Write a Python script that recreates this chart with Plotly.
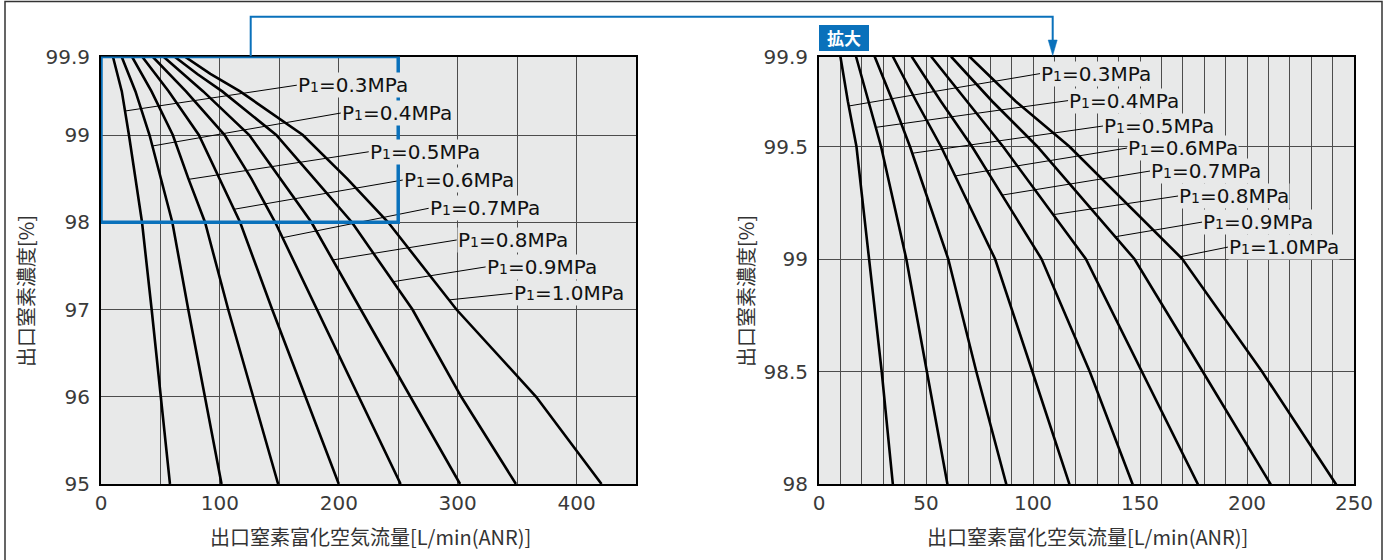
import numpy as np
import plotly.graph_objects as go

W, H = 1387, 560
BLUE = "#0a71bb"
PLOT_BG = "#e8e9e9"
GRID = "#4d4d4d"

# Supply pressure labels
pressures = ["0.3", "0.4", "0.5", "0.6", "0.7", "0.8", "0.9", "1.0"]

# Outlet nitrogen purity [%] at which each curve's flow is given
purity = [99.9, 99.7, 99.5, 99.0, 98.5, 98.0, 97.0, 96.0, 95.0]

# Outlet nitrogen-enriched air flow [L/min(ANR)] for each supply pressure
flow_03 = [10.0, 13.5, 17.5, 23.5, 29.3, 34.5, 42.6, 50.5, 58.0]
flow_04 = [17.3, 23.0, 29.0, 40.8, 50.5, 60.0, 73.4, 87.4, 101.4]
flow_05 = [26.0, 34.5, 42.5, 60.4, 73.5, 87.5, 107.0, 128.0, 149.0]
flow_06 = [34.5, 45.5, 57.0, 82.3, 99.7, 117.0, 144.0, 172.0, 200.0]
flow_07 = [43.3, 57.0, 71.5, 104.0, 126.5, 146.5, 181.5, 217.0, 252.0]
flow_08 = [52.4, 69.0, 86.0, 124.7, 151.0, 177.0, 218.5, 260.0, 302.0]
flow_09 = [61.7, 81.0, 102.0, 147.4, 179.3, 211.0, 262.0, 303.0, 349.0]
flow_10 = [70.3, 92.0, 117.0, 169.8, 207.0, 241.5, 299.0, 366.0, 421.0]
flows = [flow_03, flow_04, flow_05, flow_06, flow_07, flow_08, flow_09, flow_10]

# Left chart (full range): label anchor (flow, purity) and purity where the leader meets the curve
left_label_x = [164.7, 201.7, 225.2, 253.8, 275.6, 299.2, 323.5, 346.2]
left_label_y = [99.571, 99.252, 98.808, 98.484, 98.16, 97.797, 97.488, 97.186]
left_leader_purity = [99.275, 98.874, 98.492, 98.149, 97.823, 97.568, 97.319, 97.11]

# Right chart (enlarged): label anchor and leader purity
right_label_x = [103.3, 116.4, 132.7, 143.9, 154.7, 167.8, 179.0, 191.1]
right_label_y = [99.824, 99.704, 99.591, 99.493, 99.391, 99.28, 99.164, 99.053]
right_leader_purity = [99.68, 99.585, 99.47, 99.369, 99.284, 99.197, 99.099, 99.01]

x_title = "出口窒素富化空気流量[L/min(ANR)]"
y_title = "出口窒素濃度[%]"


def px(x):
    return x / W


def py(y):
    return 1 - y / H


TICK_FONT = dict(family="DejaVu Sans", size=20, color="#3a3a3a")
LABEL_FONT = dict(family="DejaVu Sans", size=20, color="#111111")
CJK_FONT = dict(family="Noto Sans CJK JP", size=20, color="#333333")

fig = go.Figure()

for fl in flows:
    fig.add_trace(go.Scatter(x=fl, y=purity, xaxis="x", yaxis="y", mode="lines",
                             line=dict(color="black", width=2.6), showlegend=False,
                             hoverinfo="skip"))
    fig.add_trace(go.Scatter(x=fl, y=purity, xaxis="x2", yaxis="y2", mode="lines",
                             line=dict(color="black", width=2.6), showlegend=False,
                             hoverinfo="skip"))

shapes = []
annotations = []

pur_asc = np.array(purity[::-1])
for i, fl in enumerate(flows):
    fl_asc = np.array(fl[::-1])
    label = f"P<span style='font-size:14px'>1</span>={pressures[i]}MPa"
    # left chart
    lx = float(np.interp(left_leader_purity[i], pur_asc, fl_asc))
    shapes.append(dict(type="line", xref="x", yref="y",
                       x0=left_label_x[i], y0=left_label_y[i],
                       x1=lx, y1=left_leader_purity[i],
                       line=dict(color="black", width=1)))
    annotations.append(dict(xref="x", yref="y", x=left_label_x[i], y=left_label_y[i],
                            text=label, showarrow=False, xanchor="left", yanchor="middle",
                            bgcolor=PLOT_BG, borderpad=0, font=LABEL_FONT))
    # right chart
    rx = float(np.interp(right_leader_purity[i], pur_asc, fl_asc))
    shapes.append(dict(type="line", xref="x2", yref="y2",
                       x0=right_label_x[i], y0=right_label_y[i],
                       x1=rx, y1=right_leader_purity[i],
                       line=dict(color="black", width=1)))
    annotations.append(dict(xref="x2", yref="y2", x=right_label_x[i], y=right_label_y[i],
                            text=label, showarrow=False, xanchor="left", yanchor="middle",
                            bgcolor=PLOT_BG, borderpad=0, font=LABEL_FONT))

# enlarged region marker on the left chart
shapes.append(dict(type="rect", xref="x", yref="y", x0=0, x1=250, y0=98, y1=99.9,
                   line=dict(color=BLUE, width=3.5), layer="above"))

# connector from the marked region to the enlarged chart
shapes.append(dict(type="path", xref="paper", yref="paper",
                   path=(f"M {px(250.7)} {py(56)} L {px(250.7)} {py(16.7)} "
                         f"L {px(1052.7)} {py(16.7)} L {px(1052.7)} {py(44)}"),
                   line=dict(color=BLUE, width=2)))
shapes.append(dict(type="path", xref="paper", yref="paper",
                   path=(f"M {px(1048.2)} {py(40)} L {px(1057.2)} {py(40)} "
                         f"L {px(1052.7)} {py(55.5)} Z"),
                   fillcolor=BLUE, line=dict(color=BLUE, width=0.5)))

# badge
shapes.append(dict(type="rect", xref="paper", yref="paper",
                   x0=px(819), x1=px(869), y0=py(51), y1=py(25),
                   fillcolor=BLUE, line=dict(width=0)))
annotations.append(dict(xref="paper", yref="paper", x=px(844), y=py(38), text="<b>拡大</b>",
                        showarrow=False, xanchor="center", yanchor="middle",
                        font=dict(family="Noto Sans CJK JP", size=17, color="white")))

# outer frame
shapes.append(dict(type="rect", xref="paper", yref="paper",
                   x0=px(5), x1=px(1382), y0=py(565), y1=py(1.5),
                   line=dict(color="#333333", width=1.5)))

# axis titles
for cx in (370, 1087):
    annotations.append(dict(xref="paper", yref="paper", x=px(cx), y=py(536), text=x_title,
                            showarrow=False, xanchor="center", yanchor="middle", font=CJK_FONT))
for cx in (25, 745):
    annotations.append(dict(xref="paper", yref="paper", x=px(cx), y=py(291), text=y_title,
                            showarrow=False, xanchor="center", yanchor="middle",
                            textangle=-90, font=CJK_FONT))

axis_common = dict(showline=True, linecolor="black", linewidth=2, mirror=True,
                   zeroline=False, showgrid=True, gridcolor=GRID, gridwidth=1,
                   ticks="", tickfont=TICK_FONT, automargin=False, fixedrange=True)

ydom = [py(484), py(56.5)]

fig.update_layout(
    template="none",
    width=W, height=H,
    margin=dict(l=0, r=0, t=0, b=0),
    paper_bgcolor="white",
    plot_bgcolor=PLOT_BG,
    showlegend=False,
    xaxis=dict(domain=[px(101), px(636)], range=[0, 450], anchor="y",
               tickvals=[0, 100, 200, 300, 400], ticklabelstandoff=0,
               minor=dict(dtick=50, tick0=0, showgrid=True, gridcolor=GRID, gridwidth=1),
               **axis_common),
    yaxis=dict(domain=ydom, range=[95, 99.9], anchor="x",
               tickvals=[95, 96, 97, 98, 99, 99.9],
               ticktext=["95", "96", "97", "98", "99", "99.9"], ticklabelstandoff=5,
               **axis_common),
    xaxis2=dict(domain=[px(819), px(1354)], range=[0, 250], anchor="y2",
                tickvals=[0, 50, 100, 150, 200, 250], ticklabelstandoff=0,
                minor=dict(dtick=10, tick0=0, showgrid=True, gridcolor=GRID, gridwidth=1),
                **axis_common),
    yaxis2=dict(domain=ydom, range=[98, 99.9], anchor="x2",
                tickvals=[98, 98.5, 99, 99.5, 99.9],
                ticktext=["98", "98.5", "99", "99.5", "99.9"], ticklabelstandoff=5,
                **axis_common),
    shapes=shapes,
    annotations=annotations,
)

fig.write_html("out.html")
